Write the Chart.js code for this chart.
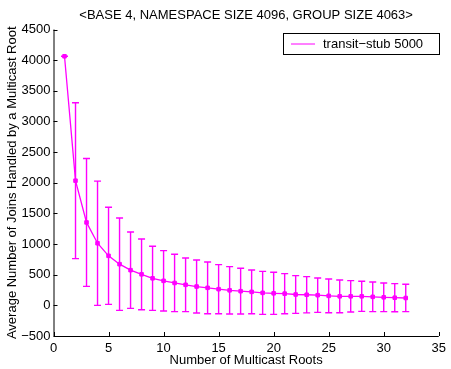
<!DOCTYPE html>
<html><head><meta charset="utf-8">
<script src="https://cdn.jsdelivr.net/npm/chart.js@4/dist/chart.umd.min.js"></script>
<style>html,body{margin:0;padding:0;background:#fff}#wrap{width:451px;height:369px}</style>
</head><body><div id="wrap"><canvas id="c" width="451" height="369"></canvas></div>
<script>
const roots = [1,2,3,4,5,6,7,8,9,10,11,12,13,14,15,16,17,18,19,20,21,22,23,24,25,26,27,28,29,30,31,32];
const meanJoins = [4063,2034,1353,1013,808,672,574,506,441,400,365,335,307,286,264,245,231,220,204,196,191,177,173,166,155,147,147,147,139,131,125,120];
const stdJoins = [0,1272,1043,1013,792,754,623,577,523,493,468,438,432,422,400,387,373,356,351,343,327,308,296,280,275,267,256,245,242,234,229,223];
const xTicks = [0,5,10,15,20,25,30,35];
const yTicks = [-500,0,500,1000,1500,2000,2500,3000,3500,4000,4500];
const seriesLabel = 'transit\u2212stub 5000';
const titleText = '<BASE 4, NAMESPACE SIZE 4096, GROUP SIZE 4063>';
const xTitle = 'Number of Multicast Roots';
const yTitle = 'Average Number of Joins Handled by a Multicast Root';

const FONT = 'Liberation Sans, Arial, Helvetica, sans-serif';
const MAG = '#ff00ff';

const errorBars = {
  id: 'errorBars',
  afterDatasetsDraw(chart) {
    const {ctx, scales: {x, y}} = chart;
    ctx.save();
    ctx.strokeStyle = MAG;
    ctx.lineWidth = 1.4;
    const cap = 3.5;
    roots.forEach((r, i) => {
      const px = x.getPixelForValue(r);
      const yt = y.getPixelForValue(meanJoins[i] + stdJoins[i]);
      const yb = y.getPixelForValue(meanJoins[i] - stdJoins[i]);
      ctx.beginPath();
      ctx.moveTo(px, yt); ctx.lineTo(px, yb);
      ctx.moveTo(px - cap, yt); ctx.lineTo(px + cap, yt);
      ctx.moveTo(px - cap, yb); ctx.lineTo(px + cap, yb);
      ctx.stroke();
    });
    ctx.restore();
  }
};

const axesAndLegend = {
  id: 'axesAndLegend',
  afterDraw(chart) {
    const {ctx, chartArea: a, scales: {x, y}} = chart;
    ctx.save();
    // title centred over the plot area
    ctx.fillStyle = '#000';
    ctx.font = '13px ' + FONT;
    ctx.textAlign = 'center';
    ctx.textBaseline = 'middle';
    ctx.fillText(titleText, (a.left + a.right) / 2, 15);
    ctx.lineWidth = 1;
    ctx.strokeStyle = '#000';
    ctx.beginPath();
    ctx.moveTo(a.left + 0.5, a.top); ctx.lineTo(a.left + 0.5, a.bottom + 0.5);
    ctx.lineTo(a.right, a.bottom + 0.5);
    ctx.stroke();
    ctx.beginPath();
    xTicks.forEach(v => { const px = Math.round(x.getPixelForValue(v)) + 0.5; ctx.moveTo(px, a.bottom); ctx.lineTo(px, a.bottom - 4); });
    yTicks.forEach(v => { const py = Math.round(y.getPixelForValue(v)) + 0.5; ctx.moveTo(a.left, py); ctx.lineTo(a.left + 4, py); });
    ctx.stroke();
    // legend
    const bx = 283, by = 33, bw = 156, bh = 21;
    ctx.fillStyle = '#fff';
    ctx.fillRect(bx, by, bw, bh);
    ctx.strokeStyle = '#000';
    ctx.strokeRect(bx + 0.5, by + 0.5, bw, bh);
    ctx.strokeStyle = MAG;
    ctx.beginPath(); ctx.moveTo(291, by + 11); ctx.lineTo(315, by + 11); ctx.stroke();
    ctx.fillStyle = '#000';
    ctx.font = '13px ' + FONT;
    ctx.textBaseline = 'middle';
    ctx.textAlign = 'left';
    ctx.fillText(chart.data.datasets[0].label, 323, by + 11);
    ctx.restore();
  }
};

new Chart(document.getElementById('c'), {
  type: 'line',
  data: {
    datasets: [{
      label: seriesLabel,
      data: roots.map((r, i) => ({x: r, y: meanJoins[i]})),
      borderColor: MAG,
      backgroundColor: MAG,
      borderWidth: 1.3,
      pointStyle: 'rect',
      pointRadius: 2.5,
      pointBorderWidth: 1,
      tension: 0
    }]
  },
  options: {
    responsive: false,
    devicePixelRatio: 1,
    animation: false,
    layout: {padding: {left: 0, right: 9.5, top: 29.5, bottom: 0}},
    plugins: {
      legend: {display: false},
      tooltip: {enabled: false},
      title: {display: false}
    },
    scales: {
      x: {
        type: 'linear', min: 0, max: 35,
        afterBuildTicks: s => { s.ticks = xTicks.map(v => ({value: v})); },
        afterFit: s => { s.height = 33; },
        grid: {display: false, drawTicks: false},
        border: {display: false},
        ticks: {color: '#000', font: {family: FONT, size: 13}, padding: 5, maxRotation: 0, autoSkip: false},
        title: {display: true, text: xTitle, color: '#000', font: {family: FONT, size: 13}, padding: {top: 0, bottom: 0.5}}
      },
      y: {
        type: 'linear', min: -500, max: 4500,
        afterBuildTicks: s => { s.ticks = yTicks.map(v => ({value: v})); },
        afterFit: s => { s.width = 53.5; },
        grid: {display: false, drawTicks: false},
        border: {display: false},
        ticks: {color: '#000', font: {family: FONT, size: 13}, padding: 3, autoSkip: false,
          callback: v => (v < 0 ? '\u2212' + Math.abs(v) : String(v))},
        title: {display: true, text: yTitle, color: '#000', font: {family: FONT, size: 13}, padding: {top: 5, bottom: 0}}
      }
    }
  },
  plugins: [errorBars, axesAndLegend]
});
</script></body></html>
